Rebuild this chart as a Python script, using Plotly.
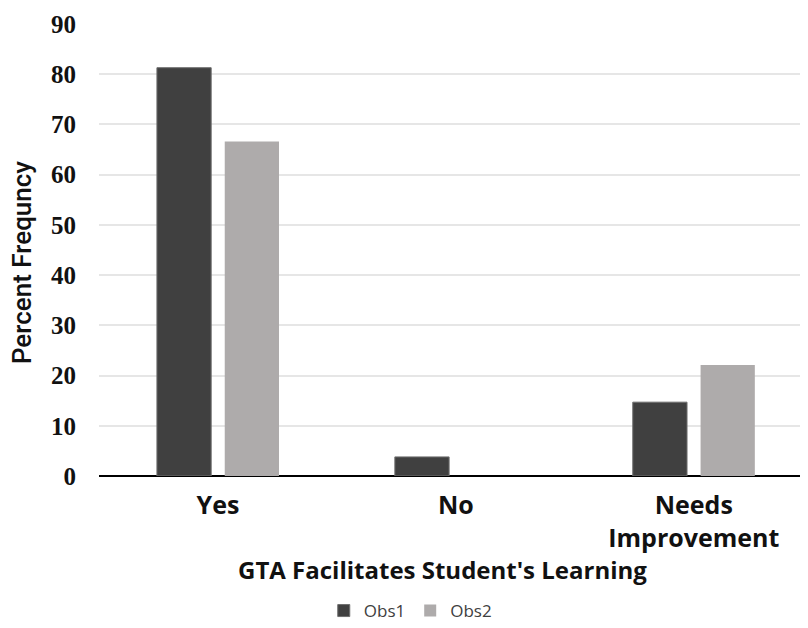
import plotly.graph_objects as go

categories = ["Yes", "No", "Needs<br>Improvement"]
obs1 = [81.3, 3.8, 14.7]
obs2 = [66.6, 0, 22.1]
y_ticks = [0, 10, 20, 30, 40, 50, 60, 70, 80, 90]

fig = go.Figure()
fig.add_trace(go.Bar(name="Obs1", x=categories, y=obs1,
                     marker=dict(color="#404040", line=dict(color="#6e6e6e", width=1))))
fig.add_trace(go.Bar(name="Obs2", x=categories, y=obs2,
                     marker=dict(color="#AEABAB", line=dict(width=0))))

# page body has an 8px margin, so the figure is drawn at (8, 8)
fig.update_layout(
    width=800, height=628,
    margin=dict(l=91, r=0, t=16, b=160),
    plot_bgcolor="white", paper_bgcolor="white",
    barmode="group", bargap=0.43, bargroupgap=0.2,
    showlegend=True,
    legend=dict(orientation="h", x=0.439, xanchor="center", yref="container",
                y=(628 - 603) / 628, yanchor="middle",
                font=dict(family="Open Sans", size=17, color="#404040"),
                itemwidth=30, traceorder="normal"),
    xaxis=dict(range=[-0.5, 2.48], showgrid=False, ticks="",
               tickfont=dict(family="Open Sans", size=25, color="#111111", weight="bold"),
               ticklabelstandoff=12),
    yaxis=dict(range=[0, 90], tickvals=y_ticks, showgrid=True, gridcolor="#E6E6E6", gridwidth=1.5,
               zeroline=True, zerolinecolor="#000000", zerolinewidth=2, ticks="",
               tickfont=dict(family="Liberation Serif", size=25, color="#111111", weight="bold"),
               ticklabelstandoff=22),
    annotations=[
        dict(text="GTA Facilitates Student's Learning", xref="paper", yref="paper",
             x=0.484, y=(476 - 569) / 452, xanchor="center", yanchor="middle", showarrow=False,
             font=dict(family="Open Sans", size=24, color="#111111", weight="bold")),
        dict(text="Percent Frequncy", xref="paper", yref="paper", textangle=-90,
             x=(22 - 99) / 709, y=0.471, xanchor="center", yanchor="middle", showarrow=False,
             font=dict(family="Roboto", size=26, color="#111111", weight=500)),
    ],
)

fig.write_html("out.html")
